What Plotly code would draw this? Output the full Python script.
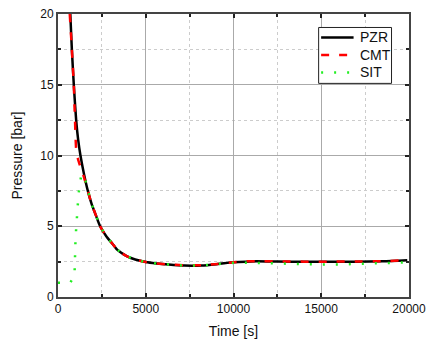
import plotly.graph_objects as go

# PZR pressure
pzr_t = [700, 790, 900, 1035, 1150, 1280, 1480, 1700, 1910, 2150, 2400, 2750, 3080, 3370, 3700, 3940,
         4400, 5000, 5600, 6300, 7200, 8200, 9100, 10000, 10700, 11300, 12500, 14000, 15500, 17000, 18500, 19900]
pzr_p = [20.0, 17.5, 15.0, 12.5, 11.1, 10.0, 8.7, 7.5, 6.6, 5.8, 5.0, 4.3, 3.8, 3.35, 3.05, 2.87,
         2.65, 2.47, 2.37, 2.29, 2.22, 2.23, 2.33, 2.45, 2.5, 2.52, 2.51, 2.49, 2.49, 2.5, 2.52, 2.59]

# CMT pressure
cmt_t = [670, 790, 900, 940, 970, 1000, 1050, 1150, 1250, 1470, 1700, 1910, 2150, 2400, 2750, 3080, 3370, 3700,
         3940, 4400, 5000, 5600, 6300, 7200, 8200, 9100, 10000, 10700, 11300, 12500, 14000, 15500, 17000, 18500, 19900]
cmt_p = [20.0, 17.5, 15.0, 13.5, 12.5, 11.3, 10.2, 9.7, 9.3, 8.5, 7.5, 6.6, 5.8, 5.0, 4.3, 3.8, 3.35, 3.05,
         2.87, 2.65, 2.47, 2.37, 2.3, 2.24, 2.25, 2.34, 2.46, 2.52, 2.53, 2.52, 2.5, 2.5, 2.51, 2.53, 2.6]

# SIT pressure
sit_t = [0, 690, 940, 945, 956, 996, 1035, 1070, 1126, 1166, 1240, 1337, 1480, 1700, 1910, 2150, 2400, 2750, 3080,
         3370, 3700, 3940, 4400, 5000, 5600, 6300, 7200, 8200, 9100, 10000, 11000, 12000, 13000, 14000, 15000,
         16000, 17000, 18000, 19000, 20000]
sit_p = [1.0, 1.0, 1.5, 2.36, 3.18, 4.0, 4.82, 5.6, 6.4, 7.2, 8.0, 8.65, 8.6, 7.5, 6.6, 5.8, 5.0, 4.3, 3.8,
         3.35, 3.05, 2.87, 2.65, 2.47, 2.37, 2.29, 2.22, 2.23, 2.33, 2.42, 2.42, 2.38, 2.33, 2.3, 2.29,
         2.3, 2.33, 2.36, 2.4, 2.45]

series_names = ["PZR", "CMT", "SIT"]
x_ticks = [0, 5000, 10000, 15000, 20000]
y_ticks = [0, 5, 10, 15, 20]

FONT = "Liberation Sans, Arial, sans-serif"
W, H = 427, 345
ML, MR, MT, MB = 57.5, 18, 14, 47.5
PW, PH = W - ML - MR, H - MT - MB

styles = [
    dict(color="black", width=2.5),
    dict(color="#ff0000", width=2.5, dash="8px,10px"),
    dict(color="#22ee22", width=2.5, dash="2px,11px"),
]

fig = go.Figure()
fig.add_trace(go.Scatter(x=pzr_t, y=pzr_p, name=series_names[0], mode="lines",
                         line=dict(**styles[0], shape="spline", smoothing=0.6)))
fig.add_trace(go.Scatter(x=cmt_t, y=cmt_p, name=series_names[1], mode="lines",
                         line=dict(**styles[1], shape="spline", smoothing=0.6)))
fig.add_trace(go.Scatter(x=sit_t, y=sit_p, name=series_names[2], mode="lines",
                         line=dict(**styles[2])))

axis_common = dict(
    showline=True, linecolor="#444444", linewidth=2, mirror="ticks",
    ticks="inside", ticklen=4, tickcolor="#222222", tickwidth=1.5,
    showgrid=True, gridcolor="#aaaaaa", gridwidth=1.2,
    zeroline=False,
    tickfont=dict(family=FONT, size=12, color="#111111"),
)

fig.update_xaxes(
    range=[0, 20000], tickvals=x_ticks, ticktext=[str(v) for v in x_ticks],
    title=dict(text="Time [s]", font=dict(family=FONT, size=14, color="#111111"), standoff=11),
    minor=dict(dtick=2500, tick0=0, ticks="inside", ticklen=3, tickcolor="#222222",
               showgrid=True, gridcolor="#cccccc", griddash="dot", gridwidth=1),
    **axis_common,
)
fig.update_yaxes(
    range=[0, 20], tickvals=y_ticks, ticktext=[str(v) for v in y_ticks],
    title=dict(text="Pressure [bar]", font=dict(family=FONT, size=14, color="#111111"), standoff=14),
    minor=dict(dtick=2.5, tick0=0, ticks="inside", ticklen=3, tickcolor="#222222",
               showgrid=True, gridcolor="#cccccc", griddash="dot", gridwidth=1),
    **axis_common,
)


# custom legend (pixel positions converted to paper coordinates)
def px(x):
    return (x - ML) / PW


def py(y):
    return (H - MB - y) / PH


shapes = [dict(type="rect", xref="paper", yref="paper",
               x0=px(318.5), x1=px(391.5), y0=py(27.5), y1=py(83.5),
               line=dict(color="#222222", width=1), fillcolor="white", layer="above")]
annotations = []
row_y = [37.5, 55, 72.5]
for name, st, ry in zip(series_names, styles, row_y):
    shapes.append(dict(type="line", xref="paper", yref="paper",
                       x0=px(321), x1=px(353.5), y0=py(ry), y1=py(ry),
                       line=st, layer="above"))
    annotations.append(dict(text=name, xref="paper", yref="paper",
                            x=px(357.5), y=py(ry), xanchor="left", yanchor="middle",
                            showarrow=False, font=dict(family=FONT, size=14, color="#111111")))

fig.update_layout(
    width=W, height=H,
    margin=dict(l=ML, r=MR, t=MT, b=MB, autoexpand=False),
    paper_bgcolor="white", plot_bgcolor="white",
    font=dict(family=FONT, size=12, color="#111111"),
    showlegend=False,
    shapes=shapes,
    annotations=annotations,
)

fig.write_html("out.html")
